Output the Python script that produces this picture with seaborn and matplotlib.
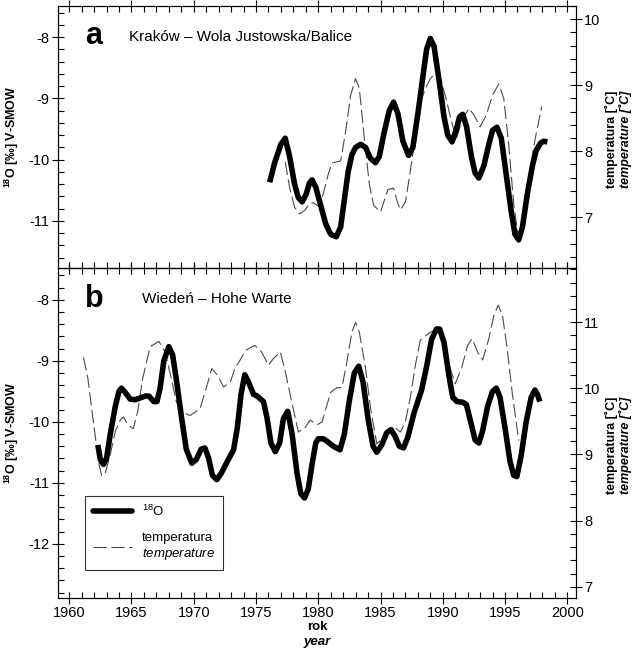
import matplotlib
matplotlib.use("Agg")
import matplotlib.pyplot as plt
from matplotlib.ticker import MultipleLocator
from matplotlib.lines import Line2D
import seaborn as sns

# Krakow - d18O (thick) and temperature (dashed)
krk_o_year = [1976.1, 1976.5, 1977.0, 1977.35, 1977.7, 1978.1, 1978.4, 1978.7, 1979.0, 1979.3,
              1979.5, 1979.8, 1980.2, 1980.6, 1981.0, 1981.45, 1981.8, 1982.1, 1982.4, 1982.7,
              1983.0, 1983.4, 1983.8, 1984.2, 1984.6, 1984.9, 1985.3, 1985.7, 1986.05, 1986.4,
              1986.8, 1987.25, 1987.6, 1988.0, 1988.4, 1988.7, 1989.0, 1989.3, 1989.7, 1990.1,
              1990.4, 1990.75, 1991.1, 1991.35, 1991.6, 1991.9, 1992.3, 1992.6, 1992.9, 1993.3,
              1993.7, 1994.0, 1994.35, 1994.7, 1995.1, 1995.5, 1995.8, 1996.1, 1996.4, 1996.8,
              1997.2, 1997.5, 1997.85, 1998.1, 1998.4]
krk_o_val = [-10.37, -10.05, -9.75, -9.65, -9.95, -10.40, -10.62, -10.69, -10.58, -10.38,
             -10.33, -10.45, -10.75, -11.05, -11.22, -11.26, -11.10, -10.65, -10.20, -9.92,
             -9.80, -9.75, -9.80, -9.98, -10.05, -9.95, -9.55, -9.20, -9.06, -9.25,
             -9.70, -9.93, -9.80, -9.25, -8.65, -8.20, -8.02, -8.15, -8.70, -9.30,
             -9.60, -9.71, -9.50, -9.30, -9.26, -9.45, -9.95, -10.22, -10.30, -10.10,
             -9.75, -9.52, -9.47, -9.65, -10.25, -10.85, -11.22, -11.31, -11.10, -10.55,
             -10.10, -9.85, -9.73, -9.70, -9.71]

krk_t_year = [1977.35, 1977.7, 1978.1, 1978.5, 1978.9, 1979.3, 1979.6, 1980.0, 1980.4, 1980.8,
              1981.1, 1981.5, 1981.8, 1982.2, 1982.6, 1983.0, 1983.3, 1983.7, 1984.1, 1984.45,
              1985.0, 1985.3, 1985.6, 1986.05, 1986.4, 1986.6, 1987.0, 1987.4, 1987.8, 1988.2,
              1988.6, 1989.0, 1989.5, 1989.9, 1990.3, 1990.7, 1991.1, 1991.5, 1992.1, 1992.5,
              1993.0, 1993.5, 1994.0, 1994.5, 1994.9, 1995.3, 1995.7, 1996.1, 1996.5, 1997.0,
              1997.4, 1997.95]
krk_t_val = [7.84, 7.45, 7.15, 7.05, 7.10, 7.20, 7.22, 7.17, 7.35, 7.65,
             7.82, 7.84, 7.85, 8.30, 8.85, 9.10, 8.95, 8.20, 7.50, 7.18,
             7.08, 7.25, 7.42, 7.44, 7.20, 7.11, 7.23, 7.70, 8.25, 8.73,
             8.95, 9.10, 9.20, 9.05, 8.77, 8.45, 8.19, 8.45, 8.65, 8.55,
             8.37, 8.55, 8.85, 9.02, 8.80, 8.09, 7.20, 6.65, 7.00, 7.70,
             8.17, 8.68]

# Wien - d18O (thick) and temperature (dashed)
wien_o_year = [1962.3, 1962.5, 1962.75, 1963.0, 1963.3, 1963.7, 1964.0, 1964.2, 1964.5, 1964.9,
               1965.3, 1965.7, 1966.1, 1966.4, 1966.8, 1967.05, 1967.3, 1967.6, 1968.0, 1968.3,
               1968.6, 1969.0, 1969.4, 1969.85, 1970.2, 1970.6, 1970.9, 1971.2, 1971.5, 1971.85,
               1972.2, 1972.7, 1973.2, 1973.5, 1973.8, 1974.1, 1974.4, 1974.8, 1975.1, 1975.6,
               1975.9, 1976.2, 1976.55, 1976.9, 1977.2, 1977.55, 1977.9, 1978.3, 1978.6, 1978.9,
               1979.2, 1979.5, 1979.8, 1980.0, 1980.4, 1980.7, 1981.2, 1981.75, 1982.1, 1982.5,
               1982.9, 1983.25, 1983.6, 1984.0, 1984.4, 1984.7, 1985.1, 1985.5, 1985.85, 1986.2,
               1986.5, 1986.85, 1987.2, 1987.7, 1988.3, 1988.7, 1989.1, 1989.5, 1989.75, 1990.1,
               1990.5, 1990.8, 1991.15, 1991.6, 1991.9, 1992.3, 1992.6, 1992.9, 1993.2, 1993.6,
               1994.0, 1994.3, 1994.6, 1995.0, 1995.4, 1995.7, 1995.95, 1996.3, 1996.7, 1997.1,
               1997.4, 1997.6, 1997.8]
wien_o_val = [-10.38, -10.62, -10.70, -10.60, -10.20, -9.75, -9.50, -9.45, -9.52, -9.63,
              -9.64, -9.61, -9.58, -9.58, -9.67, -9.67, -9.45, -9.00, -8.77, -8.90,
              -9.30, -9.90, -10.45, -10.68, -10.62, -10.45, -10.43, -10.60, -10.88, -10.95,
              -10.85, -10.65, -10.46, -10.10, -9.55, -9.23, -9.35, -9.55, -9.58, -9.67,
              -9.95, -10.35, -10.49, -10.35, -9.95, -9.83, -10.20, -10.85, -11.18, -11.25,
              -11.10, -10.70, -10.35, -10.28, -10.28, -10.32, -10.40, -10.46, -10.20, -9.65,
              -9.20, -9.09, -9.35, -9.95, -10.40, -10.50, -10.38, -10.18, -10.13, -10.25,
              -10.40, -10.43, -10.25, -9.85, -9.48, -9.10, -8.65, -8.48, -8.48, -8.70,
              -9.25, -9.60, -9.67, -9.68, -9.72, -10.05, -10.30, -10.35, -10.15, -9.75,
              -9.50, -9.45, -9.60, -10.10, -10.65, -10.88, -10.90, -10.55, -10.00, -9.60,
              -9.48, -9.55, -9.67]

wien_t_year = [1961.15, 1961.5, 1961.8, 1962.1, 1962.4, 1962.6, 1962.9, 1963.3, 1963.7, 1964.1,
               1964.35, 1964.7, 1965.15, 1965.5, 1965.9, 1966.5, 1967.2, 1967.7, 1968.2, 1968.6,
               1969.05, 1969.7, 1970.5, 1971.0, 1971.45, 1971.9, 1972.4, 1972.95, 1973.3, 1973.7,
               1974.2, 1974.9, 1975.45, 1976.0, 1976.4, 1976.95, 1977.3, 1977.9, 1978.4, 1978.95,
               1979.35, 1979.9, 1980.3, 1980.7, 1981.0, 1981.5, 1981.9, 1982.3, 1982.7, 1983.0,
               1983.3, 1983.8, 1984.2, 1984.7, 1985.2, 1985.85, 1986.2, 1986.6, 1987.0, 1987.4,
               1987.8, 1988.2, 1989.0, 1989.65, 1990.1, 1990.6, 1991.0, 1991.5, 1992.0, 1992.35,
               1992.8, 1993.2, 1993.7, 1994.1, 1994.45, 1994.8, 1995.15, 1995.6, 1996.1]
wien_t_val = [10.47, 10.15, 9.70, 9.26, 8.85, 8.68, 8.72, 9.00, 9.35, 9.52,
              9.57, 9.45, 9.39, 9.65, 10.15, 10.63, 10.71, 10.55, 10.15, 9.80,
              9.64, 9.59, 9.69, 10.00, 10.30, 10.20, 10.02, 10.10, 10.30, 10.42,
              10.58, 10.65, 10.55, 10.35, 10.45, 10.55, 10.30, 9.77, 9.34, 9.41,
              9.52, 9.45, 9.49, 9.75, 9.94, 10.01, 10.01, 10.40, 10.85, 11.00,
              10.85, 10.30, 9.70, 9.16, 9.25, 9.41, 9.40, 9.34, 9.50, 9.87,
              10.35, 10.73, 10.85, 10.89, 10.75, 10.30, 10.07, 10.30, 10.65, 10.75,
              10.55, 10.43, 10.75, 11.10, 11.26, 11.10, 10.63, 9.90, 9.21]

sns.set_style("ticks")
plt.rcParams["font.family"] = ["Liberation Sans", "DejaVu Sans"]
plt.rcParams["mathtext.fontset"] = "custom"
plt.rcParams["mathtext.rm"] = "Liberation Sans"
plt.rcParams["mathtext.it"] = "Liberation Sans:italic"
plt.rcParams["mathtext.bf"] = "Liberation Sans:bold"
for k in ("text.color", "axes.labelcolor", "xtick.color", "ytick.color", "axes.edgecolor"):
    plt.rcParams[k] = "black"

fig = plt.figure(figsize=(6.35, 6.51), dpi=100)
ax_a = fig.add_axes([58 / 635, 1 - 268 / 651, 518 / 635, 262 / 651])
ax_b = fig.add_axes([58 / 635, 1 - 598 / 651, 518 / 635, 330 / 651])

THICK = dict(color="black", lw=4.0, solid_capstyle="butt")
THIN = dict(color="#4a4a4a", lw=0.8)
TICK_FS = 10.5


def style_axes(ax, tw, ylim, tlim, show_x):
    ax.set_xlim(1959.1, 2000.7)
    ax.set_ylim(*ylim)
    tw.set_ylim(*tlim)
    ax.xaxis.set_major_locator(MultipleLocator(5))
    ax.xaxis.set_minor_locator(MultipleLocator(1))
    ax.yaxis.set_major_locator(MultipleLocator(1))
    ax.yaxis.set_minor_locator(MultipleLocator(0.2))
    tw.yaxis.set_major_locator(MultipleLocator(1))
    tw.yaxis.set_minor_locator(MultipleLocator(0.2))
    ax.tick_params(axis="both", which="major", direction="inout", length=8, width=0.8,
                   top=True, bottom=True, labelsize=TICK_FS, labelbottom=show_x, pad=2)
    ax.tick_params(axis="both", which="minor", direction="in", length=4, width=0.8,
                   top=True, bottom=True)
    tw.tick_params(axis="y", which="major", direction="inout", length=8, width=0.8,
                   labelsize=TICK_FS, pad=2)
    tw.tick_params(axis="y", which="minor", direction="in", length=4, width=0.8)
    for s in list(ax.spines.values()) + list(tw.spines.values()):
        s.set_linewidth(0.8)
    ax.yaxis.set_major_formatter(plt.FuncFormatter(lambda v, p: f"{v:.0f}"))
    ax.set_xlabel("")
    tw.set_ylabel("")
    ax.set_ylabel(r"$^{\mathbf{18}}$O [‰] V-SMOW", fontsize=9, fontweight="bold", labelpad=5)
    # draw d18O above temperature
    ax.set_zorder(tw.get_zorder() + 1)
    ax.patch.set_visible(False)


# panel a
tw_a = ax_a.twinx()
sns.lineplot(x=krk_t_year, y=krk_t_val, ax=tw_a, **THIN)
tw_a.lines[-1].set_dashes([12, 4])
sns.lineplot(x=krk_o_year, y=krk_o_val, ax=ax_a, **THICK)
style_axes(ax_a, tw_a, (-11.77, -7.49), (6.23, 10.2), False)

# panel b
tw_b = ax_b.twinx()
sns.lineplot(x=wien_t_year, y=wien_t_val, ax=tw_b, **THIN)
tw_b.lines[-1].set_dashes([12, 4])
sns.lineplot(x=wien_o_year, y=wien_o_val, ax=ax_b, **THICK)
style_axes(ax_b, tw_b, (-12.89, -7.48), (6.83, 11.82), True)

# panel letters and station names
ax_a.text(0.052, 0.885, "a", transform=ax_a.transAxes, fontsize=22, fontweight="bold",
          va="center")
ax_a.text(0.138, 0.88, "Kraków – Wola Justowska/Balice", transform=ax_a.transAxes,
          fontsize=11, va="center")
ax_b.text(0.052, 0.905, "b", transform=ax_b.transAxes, fontsize=22, fontweight="bold",
          va="center")
ax_b.text(0.162, 0.905, "Wiedeń – Hohe Warte", transform=ax_b.transAxes,
          fontsize=11, va="center")

# right axis labels
for yc in (1 - 139 / 651, 1 - 445 / 651):
    fig.text(611 / 635, yc, "temperatura [˚C]", rotation=90, ha="center", va="center",
             fontsize=9, fontweight="bold")
    fig.text(625 / 635, yc, "temperature [˚C]", rotation=90, ha="center", va="center",
             fontsize=9, fontweight="bold", style="italic")

# x label
fig.text(317 / 635, 1 - 627 / 651, "rok", ha="center", va="center", fontsize=9.5, fontweight="bold")
fig.text(317 / 635, 1 - 642 / 651, "year", ha="center", va="center", fontsize=9.5,
         fontweight="bold", style="italic")

# legend
handles = [Line2D([], [], color="black", lw=4.0),
           Line2D([], [], color="#4a4a4a", lw=0.8, dashes=[12, 4])]
leg = ax_b.legend(handles, [r"$^{18}$O", "temperatura\n$\\mathit{temperature}$"],
                  loc="lower left", bbox_to_anchor=(0.052, 0.085), fontsize=9.5,
                  frameon=True, fancybox=False, handlelength=3.0, borderpad=0.6,
                  labelspacing=1.0, handletextpad=0.7, borderaxespad=0)
leg.get_frame().set_edgecolor("black")
leg.get_frame().set_linewidth(0.8)

fig.savefig("out.png", dpi=100)
